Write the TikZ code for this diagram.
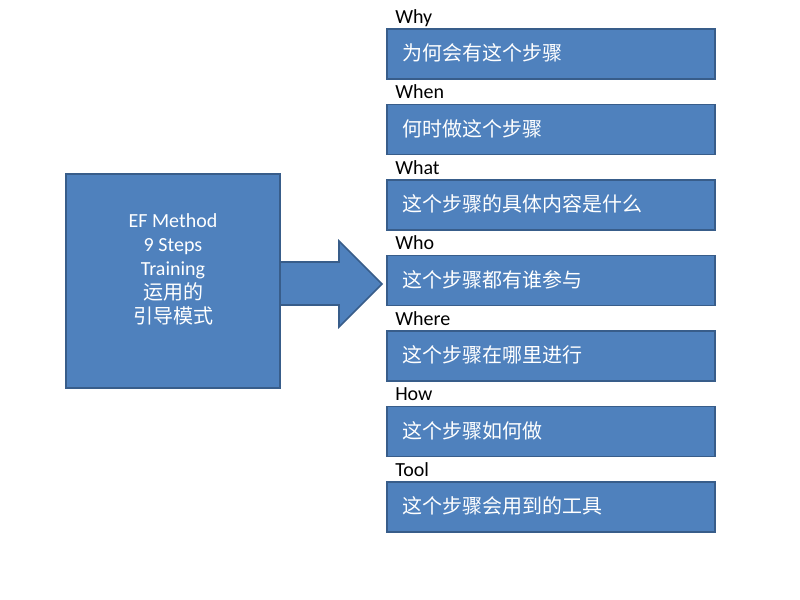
\documentclass[tikz,border=0pt]{standalone}
\usepackage{fontspec}
\setmainfont{Carlito}
\newfontfamily\cjk{Noto Sans CJK SC}
\definecolor{boxfill}{HTML}{4F81BD}
\definecolor{boxline}{HTML}{385D8A}
\begin{document}
\begin{tikzpicture}[x=0.75pt,y=-0.75pt,
  bluebox/.style={draw=boxline,line width=1.2pt,fill=boxfill},
  steptext/.style={anchor=west,text=white,font=\fontsize{15}{18}\selectfont\cjk,inner sep=0pt},
  steplabel/.style={anchor=base west,font=\fontsize{15}{18}\selectfont,inner sep=0pt,text=black}]
\useasboundingbox (0,0) rectangle (800,600);
\fill[white] (0,0) rectangle (800,600);
% left box
\draw[bluebox] (66,174) rectangle (280,388);
\node[text=white,align=center,font=\fontsize{15}{18}\selectfont,inner sep=0pt] (main) at (173,269)
  {EF Method\\9 Steps\\Training\\{\cjk 运用的}\\{\cjk 引导模式}};
% arrow
\draw[bluebox,line join=miter] (280,262) -- (339,262) -- (339,241) -- (382,284) -- (339,327) -- (339,305) -- (280,305) -- cycle;
% right boxes
\foreach \i/\lab/\txt in {0/Why/为何会有这个步骤,1/When/何时做这个步骤,2/What/这个步骤的具体内容是什么,3/Who/这个步骤都有谁参与,4/Where/这个步骤在哪里进行,5/How/这个步骤如何做,6/Tool/这个步骤会用到的工具}{
  \pgfmathsetmacro{\top}{29+75.5*\i}
  \draw[bluebox] (387,\top) rectangle (715,\top+50);
  \node[steptext] (t\i) at (402,\top+24) {\txt};
  \node[steplabel] (l\i) at (395,\top-6) {\lab};
}
\end{tikzpicture}
\end{document}
